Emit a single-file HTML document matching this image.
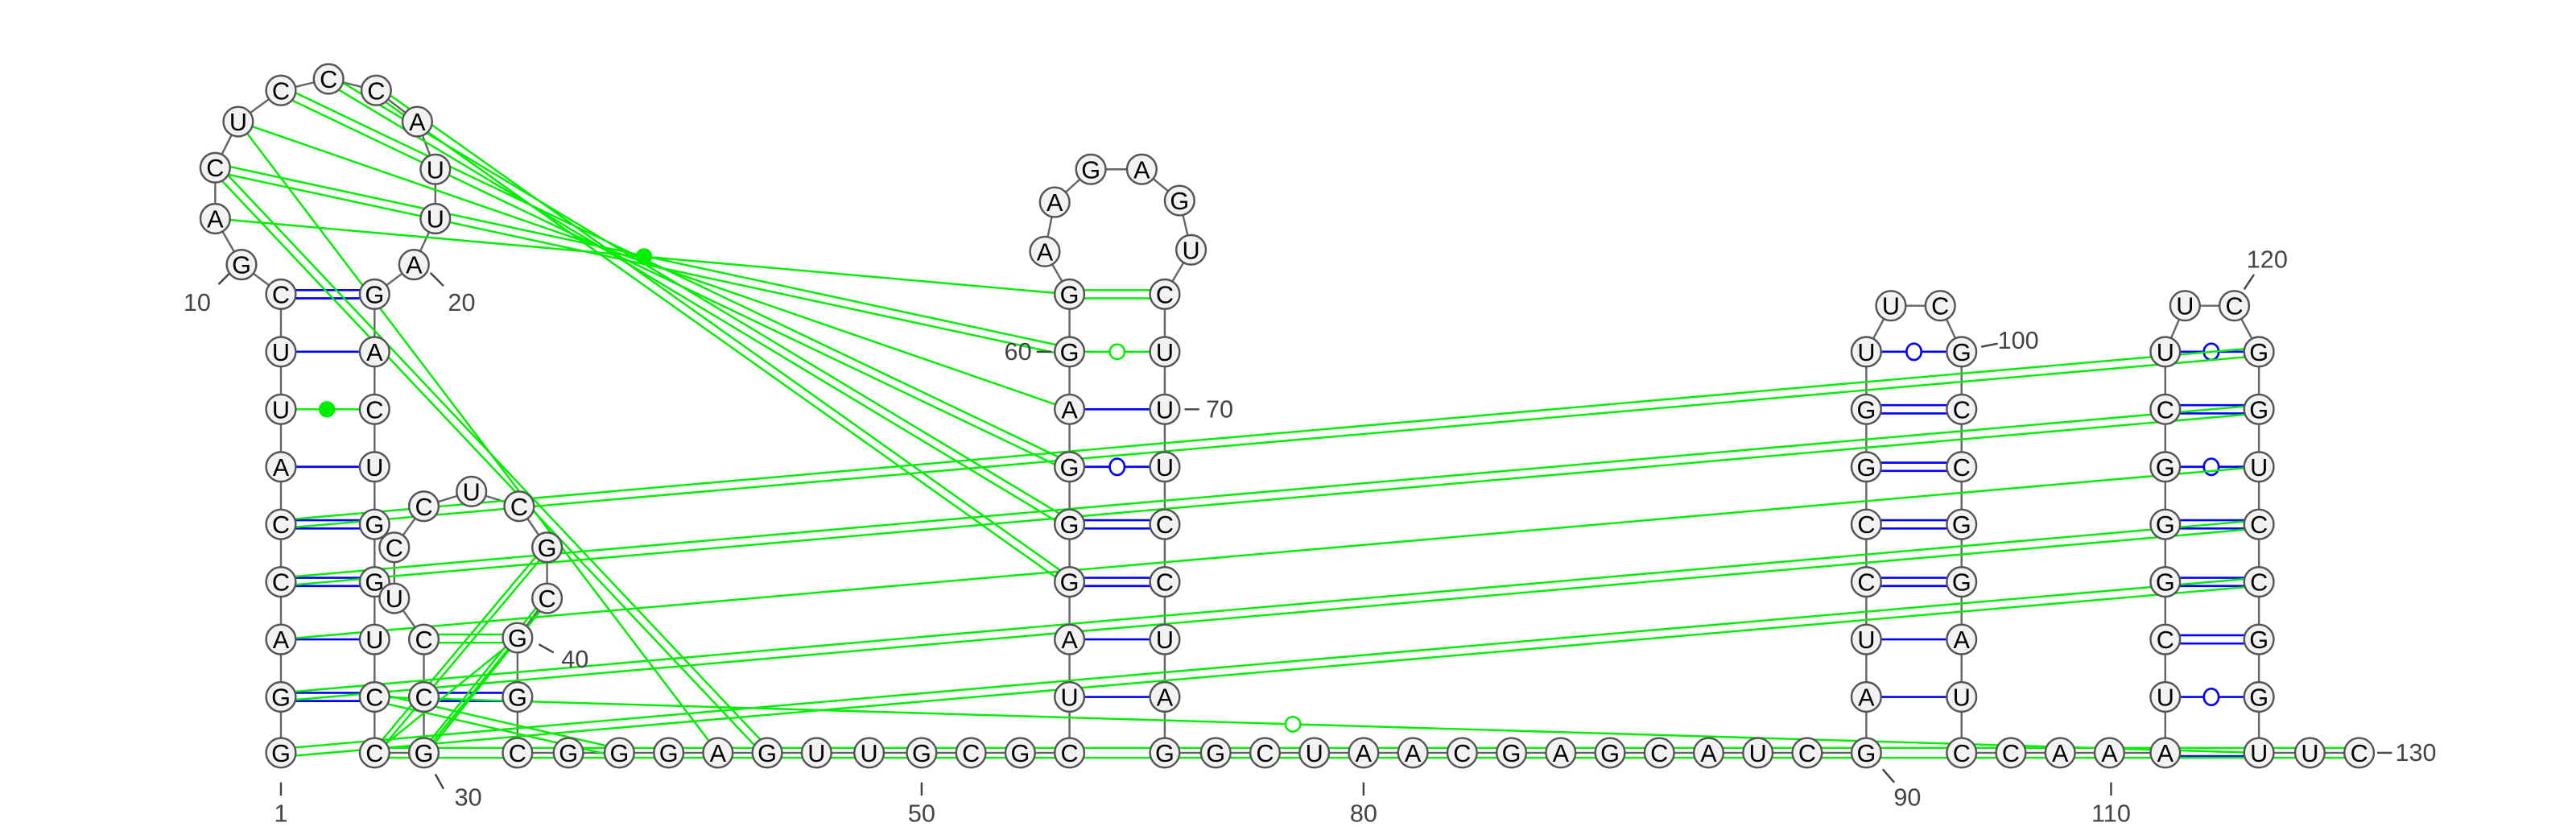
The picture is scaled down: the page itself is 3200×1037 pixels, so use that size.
<!DOCTYPE html>
<html><head><meta charset="utf-8"><style>
html,body{margin:0;padding:0;background:#fff;}
svg{display:block;}
.b{stroke:#666;stroke-width:1.2;fill:none}
.p{stroke:#0000ff;stroke-width:1.3;fill:none}
.g{stroke:#00ee00;stroke-width:1.2;fill:none}
.n circle{fill:#f2f2f2;stroke:#555;stroke-width:1.2}
.n text{font-family:"Liberation Sans",sans-serif;font-size:15px;text-anchor:middle;fill:#000;transform:translateY(0.8px)}
.l{font-family:"Liberation Sans",sans-serif;font-size:15px;fill:#444}
.t{stroke:#444;stroke-width:1.2}
</style></head><body>
<svg width="3200" height="1037" viewBox="0 0 1568 508" preserveAspectRatio="none" xmlns="http://www.w3.org/2000/svg">
<polyline class="b" points="171,458 171,424 171,389 171,354 171,319 171,284 171,249 171,214 171,179 147,161 131,133 131,102 145,74 171,55 200,48 229,55 254,74 265,103 265,133 252,161 228,179 228,214 228,249 228,284 228,319 228,354 228,389 228,424 228,458 258,458 258,424 258,389 240,364 240,333 258,308 287,299 316,308 333,333 333,364 315,388 315,424 315,458 346,458 377,458 407,458 437,458 467,458 497,458 529,458 561,458 591,458 621,458 651,458 651,424 651,389 651,354 651,319 651,284 651,249 651,214 651,179 636,153 642,123 664,103 695,103 718,122 725,152 709,179 709,214 709,249 709,284 709,319 709,354 709,389 709,424 709,458 740,458 770,458 800,458 830,458 860,458 890,458 920,458 950,458 980,458 1010,458 1040,458 1070,458 1100,458 1136,458 1136,424 1136,389 1136,354 1136,319 1136,284 1136,249 1136,214 1151,186 1181,186 1194,214 1194,249 1194,284 1194,319 1194,354 1194,389 1194,424 1194,458 1224,458 1254,458 1284,458 1318,458 1318,424 1318,389 1318,354 1318,319 1318,284 1318,249 1318,214 1330,186 1360,186 1375,214 1375,249 1375,284 1375,319 1375,354 1375,389 1375,424 1375,458 1406,458 1436,458"/>
<g class="p">
<line x1="171" y1="176.5" x2="228" y2="176.5"/><line x1="171" y1="181.5" x2="228" y2="181.5"/>
<line x1="171" y1="214" x2="228" y2="214"/>
<line x1="171" y1="284" x2="228" y2="284"/>
<line x1="171" y1="316.5" x2="228" y2="316.5"/><line x1="171" y1="321.5" x2="228" y2="321.5"/>
<line x1="171" y1="351.5" x2="228" y2="351.5"/><line x1="171" y1="356.5" x2="228" y2="356.5"/>
<line x1="171" y1="389" x2="228" y2="389"/>
<line x1="171" y1="421.5" x2="228" y2="421.5"/><line x1="171" y1="426.5" x2="228" y2="426.5"/>
<line x1="258" y1="421.5" x2="315" y2="421.5"/><line x1="258" y1="426.5" x2="315" y2="426.5"/>
<line x1="651" y1="249" x2="709" y2="249"/>
<line x1="651" y1="284" x2="709" y2="284"/>
<line x1="651" y1="316.5" x2="709" y2="316.5"/><line x1="651" y1="321.5" x2="709" y2="321.5"/>
<line x1="651" y1="351.5" x2="709" y2="351.5"/><line x1="651" y1="356.5" x2="709" y2="356.5"/>
<line x1="651" y1="389" x2="709" y2="389"/>
<line x1="651" y1="424" x2="709" y2="424"/>
<line x1="1136" y1="214" x2="1194" y2="214"/>
<line x1="1136" y1="246.5" x2="1194" y2="246.5"/><line x1="1136" y1="251.5" x2="1194" y2="251.5"/>
<line x1="1136" y1="281.5" x2="1194" y2="281.5"/><line x1="1136" y1="286.5" x2="1194" y2="286.5"/>
<line x1="1136" y1="316.5" x2="1194" y2="316.5"/><line x1="1136" y1="321.5" x2="1194" y2="321.5"/>
<line x1="1136" y1="351.5" x2="1194" y2="351.5"/><line x1="1136" y1="356.5" x2="1194" y2="356.5"/>
<line x1="1136" y1="389" x2="1194" y2="389"/>
<line x1="1136" y1="424" x2="1194" y2="424"/>
<line x1="1318" y1="214" x2="1375" y2="214"/>
<line x1="1318" y1="246.5" x2="1375" y2="246.5"/><line x1="1318" y1="251.5" x2="1375" y2="251.5"/>
<line x1="1318" y1="284" x2="1375" y2="284"/>
<line x1="1318" y1="316.5" x2="1375" y2="316.5"/><line x1="1318" y1="321.5" x2="1375" y2="321.5"/>
<line x1="1318" y1="351.5" x2="1375" y2="351.5"/><line x1="1318" y1="356.5" x2="1375" y2="356.5"/>
<line x1="1318" y1="386.5" x2="1375" y2="386.5"/><line x1="1318" y1="391.5" x2="1375" y2="391.5"/>
<line x1="1318" y1="424" x2="1375" y2="424"/>
<line x1="1318" y1="460" x2="1375" y2="460"/>
<ellipse cx="680" cy="284" rx="4.5" ry="5" fill="#fff"/>
<ellipse cx="1165" cy="214" rx="4.5" ry="5" fill="#fff"/>
<ellipse cx="1346" cy="214" rx="4.5" ry="5" fill="#fff"/>
<ellipse cx="1346" cy="284" rx="4.5" ry="5" fill="#fff"/>
<ellipse cx="1346" cy="424" rx="4.5" ry="5" fill="#fff"/>
</g>
<g class="g">
<line x1="228" y1="455" x2="1436" y2="455"/><line x1="228" y1="461" x2="1436" y2="461"/>
<line x1="171" y1="249" x2="228" y2="249"/>
<line x1="258" y1="386" x2="315" y2="386"/><line x1="258" y1="391" x2="315" y2="391"/>
<line x1="651" y1="176.5" x2="709" y2="176.5"/><line x1="651" y1="181.5" x2="709" y2="181.5"/>
<line x1="651" y1="214" x2="709" y2="214"/>
<line x1="171" y1="316.5" x2="1375" y2="211.5"/><line x1="171" y1="321.5" x2="1375" y2="216.5"/>
<line x1="171" y1="351.5" x2="1375" y2="246.5"/><line x1="171" y1="356.5" x2="1375" y2="251.5"/>
<line x1="171" y1="389" x2="1375" y2="284"/>
<line x1="171" y1="421.5" x2="1375" y2="316.5"/><line x1="171" y1="426.5" x2="1375" y2="321.5"/>
<line x1="171" y1="455.5" x2="1375" y2="351.5"/><line x1="171" y1="460.5" x2="1375" y2="356.5"/>
<line x1="228" y1="424" x2="1375" y2="458"/>
<line x1="131" y1="133" x2="651" y2="179"/>
<line x1="131" y1="99.5" x2="651" y2="211.5"/><line x1="131" y1="104.5" x2="651" y2="216.5"/>
<line x1="145" y1="74" x2="651" y2="249"/>
<line x1="169.9" y1="57.25" x2="649.9" y2="286.25"/><line x1="172.1" y1="52.75" x2="652.1" y2="281.75"/>
<line x1="198.7" y1="50.1" x2="649.7" y2="321.1"/><line x1="201.3" y1="45.9" x2="652.3" y2="316.9"/>
<line x1="227.55" y1="57.04" x2="649.55" y2="356.04"/><line x1="230.45" y1="52.96" x2="652.45" y2="351.96"/>
<line x1="145" y1="74" x2="437" y2="458"/>
<line x1="129.2" y1="103.7" x2="465.2" y2="459.7"/><line x1="132.8" y1="100.3" x2="468.8" y2="456.3"/>
<line x1="226" y1="458" x2="331" y2="333"/><line x1="230" y1="458" x2="335" y2="333"/>
<line x1="256" y1="458" x2="331" y2="364"/><line x1="260" y1="458" x2="335" y2="364"/>
<line x1="228" y1="458" x2="315" y2="388"/>
<line x1="258" y1="458" x2="315" y2="388"/>
<line x1="228" y1="421.5" x2="377" y2="455.5"/><line x1="228" y1="426.5" x2="377" y2="460.5"/>
<circle cx="787" cy="440.6" r="4.5" fill="#fff"/>
<circle cx="680" cy="214" r="4.5" fill="#fff"/>
</g>
<circle cx="199" cy="249" r="5" fill="#00ee00"/>
<circle cx="392" cy="156" r="5" fill="#00ee00"/>
<g class="t">
<line x1="171" y1="476" x2="171" y2="484"/>
<line x1="133" y1="173" x2="140" y2="166"/>
<line x1="262" y1="166" x2="270" y2="174"/>
<line x1="265" y1="471" x2="270" y2="480"/>
<line x1="328" y1="392" x2="337" y2="397"/>
<line x1="561" y1="476" x2="561" y2="484"/>
<line x1="631" y1="214" x2="640" y2="214"/>
<line x1="721" y1="249" x2="730" y2="249"/>
<line x1="830" y1="476" x2="830" y2="484"/>
<line x1="1146" y1="468" x2="1153" y2="476"/>
<line x1="1206" y1="211" x2="1216" y2="209"/>
<line x1="1285" y1="476" x2="1285" y2="484"/>
<line x1="1366" y1="176" x2="1372" y2="167"/>
<line x1="1447" y1="458" x2="1456" y2="458"/>
</g>
<g class="l">
<text x="171" y="500" text-anchor="middle">1</text>
<text x="120" y="189" text-anchor="middle">10</text>
<text x="281" y="189" text-anchor="middle">20</text>
<text x="285" y="490" text-anchor="middle">30</text>
<text x="350" y="406" text-anchor="middle">40</text>
<text x="561" y="500" text-anchor="middle">50</text>
<text x="628" y="219" text-anchor="end">60</text>
<text x="734" y="254">70</text>
<text x="830" y="500" text-anchor="middle">80</text>
<text x="1161" y="490" text-anchor="middle">90</text>
<text x="1216" y="212">100</text>
<text x="1285" y="500" text-anchor="middle">110</text>
<text x="1380" y="163" text-anchor="middle">120</text>
<text x="1458" y="463">130</text>
</g>
<g class="n">
<g transform="translate(171,458)"><circle r="9"/><text dy="4.6">G</text></g>
<g transform="translate(171,424)"><circle r="9"/><text dy="4.6">G</text></g>
<g transform="translate(171,389)"><circle r="9"/><text dy="4.6">A</text></g>
<g transform="translate(171,354)"><circle r="9"/><text dy="4.6">C</text></g>
<g transform="translate(171,319)"><circle r="9"/><text dy="4.6">C</text></g>
<g transform="translate(171,284)"><circle r="9"/><text dy="4.6">A</text></g>
<g transform="translate(171,249)"><circle r="9"/><text dy="4.6">U</text></g>
<g transform="translate(171,214)"><circle r="9"/><text dy="4.6">U</text></g>
<g transform="translate(171,179)"><circle r="9"/><text dy="4.6">C</text></g>
<g transform="translate(147,161)"><circle r="9"/><text dy="4.6">G</text></g>
<g transform="translate(131,133)"><circle r="9"/><text dy="4.6">A</text></g>
<g transform="translate(131,102)"><circle r="9"/><text dy="4.6">C</text></g>
<g transform="translate(145,74)"><circle r="9"/><text dy="4.6">U</text></g>
<g transform="translate(171,55)"><circle r="9"/><text dy="4.6">C</text></g>
<g transform="translate(200,48)"><circle r="9"/><text dy="4.6">C</text></g>
<g transform="translate(229,55)"><circle r="9"/><text dy="4.6">C</text></g>
<g transform="translate(254,74)"><circle r="9"/><text dy="4.6">A</text></g>
<g transform="translate(265,103)"><circle r="9"/><text dy="4.6">U</text></g>
<g transform="translate(265,133)"><circle r="9"/><text dy="4.6">U</text></g>
<g transform="translate(252,161)"><circle r="9"/><text dy="4.6">A</text></g>
<g transform="translate(228,179)"><circle r="9"/><text dy="4.6">G</text></g>
<g transform="translate(228,214)"><circle r="9"/><text dy="4.6">A</text></g>
<g transform="translate(228,249)"><circle r="9"/><text dy="4.6">C</text></g>
<g transform="translate(228,284)"><circle r="9"/><text dy="4.6">U</text></g>
<g transform="translate(228,319)"><circle r="9"/><text dy="4.6">G</text></g>
<g transform="translate(228,354)"><circle r="9"/><text dy="4.6">G</text></g>
<g transform="translate(228,389)"><circle r="9"/><text dy="4.6">U</text></g>
<g transform="translate(228,424)"><circle r="9"/><text dy="4.6">C</text></g>
<g transform="translate(228,458)"><circle r="9"/><text dy="4.6">C</text></g>
<g transform="translate(258,458)"><circle r="9"/><text dy="4.6">G</text></g>
<g transform="translate(258,424)"><circle r="9"/><text dy="4.6">C</text></g>
<g transform="translate(258,389)"><circle r="9"/><text dy="4.6">C</text></g>
<g transform="translate(240,364)"><circle r="9"/><text dy="4.6">U</text></g>
<g transform="translate(240,333)"><circle r="9"/><text dy="4.6">C</text></g>
<g transform="translate(258,308)"><circle r="9"/><text dy="4.6">C</text></g>
<g transform="translate(287,299)"><circle r="9"/><text dy="4.6">U</text></g>
<g transform="translate(316,308)"><circle r="9"/><text dy="4.6">C</text></g>
<g transform="translate(333,333)"><circle r="9"/><text dy="4.6">G</text></g>
<g transform="translate(333,364)"><circle r="9"/><text dy="4.6">C</text></g>
<g transform="translate(315,388)"><circle r="9"/><text dy="4.6">G</text></g>
<g transform="translate(315,424)"><circle r="9"/><text dy="4.6">G</text></g>
<g transform="translate(315,458)"><circle r="9"/><text dy="4.6">C</text></g>
<g transform="translate(346,458)"><circle r="9"/><text dy="4.6">G</text></g>
<g transform="translate(377,458)"><circle r="9"/><text dy="4.6">G</text></g>
<g transform="translate(407,458)"><circle r="9"/><text dy="4.6">G</text></g>
<g transform="translate(437,458)"><circle r="9"/><text dy="4.6">A</text></g>
<g transform="translate(467,458)"><circle r="9"/><text dy="4.6">G</text></g>
<g transform="translate(497,458)"><circle r="9"/><text dy="4.6">U</text></g>
<g transform="translate(529,458)"><circle r="9"/><text dy="4.6">U</text></g>
<g transform="translate(561,458)"><circle r="9"/><text dy="4.6">G</text></g>
<g transform="translate(591,458)"><circle r="9"/><text dy="4.6">C</text></g>
<g transform="translate(621,458)"><circle r="9"/><text dy="4.6">G</text></g>
<g transform="translate(651,458)"><circle r="9"/><text dy="4.6">C</text></g>
<g transform="translate(651,424)"><circle r="9"/><text dy="4.6">U</text></g>
<g transform="translate(651,389)"><circle r="9"/><text dy="4.6">A</text></g>
<g transform="translate(651,354)"><circle r="9"/><text dy="4.6">G</text></g>
<g transform="translate(651,319)"><circle r="9"/><text dy="4.6">G</text></g>
<g transform="translate(651,284)"><circle r="9"/><text dy="4.6">G</text></g>
<g transform="translate(651,249)"><circle r="9"/><text dy="4.6">A</text></g>
<g transform="translate(651,214)"><circle r="9"/><text dy="4.6">G</text></g>
<g transform="translate(651,179)"><circle r="9"/><text dy="4.6">G</text></g>
<g transform="translate(636,153)"><circle r="9"/><text dy="4.6">A</text></g>
<g transform="translate(642,123)"><circle r="9"/><text dy="4.6">A</text></g>
<g transform="translate(664,103)"><circle r="9"/><text dy="4.6">G</text></g>
<g transform="translate(695,103)"><circle r="9"/><text dy="4.6">A</text></g>
<g transform="translate(718,122)"><circle r="9"/><text dy="4.6">G</text></g>
<g transform="translate(725,152)"><circle r="9"/><text dy="4.6">U</text></g>
<g transform="translate(709,179)"><circle r="9"/><text dy="4.6">C</text></g>
<g transform="translate(709,214)"><circle r="9"/><text dy="4.6">U</text></g>
<g transform="translate(709,249)"><circle r="9"/><text dy="4.6">U</text></g>
<g transform="translate(709,284)"><circle r="9"/><text dy="4.6">U</text></g>
<g transform="translate(709,319)"><circle r="9"/><text dy="4.6">C</text></g>
<g transform="translate(709,354)"><circle r="9"/><text dy="4.6">C</text></g>
<g transform="translate(709,389)"><circle r="9"/><text dy="4.6">U</text></g>
<g transform="translate(709,424)"><circle r="9"/><text dy="4.6">A</text></g>
<g transform="translate(709,458)"><circle r="9"/><text dy="4.6">G</text></g>
<g transform="translate(740,458)"><circle r="9"/><text dy="4.6">G</text></g>
<g transform="translate(770,458)"><circle r="9"/><text dy="4.6">C</text></g>
<g transform="translate(800,458)"><circle r="9"/><text dy="4.6">U</text></g>
<g transform="translate(830,458)"><circle r="9"/><text dy="4.6">A</text></g>
<g transform="translate(860,458)"><circle r="9"/><text dy="4.6">A</text></g>
<g transform="translate(890,458)"><circle r="9"/><text dy="4.6">C</text></g>
<g transform="translate(920,458)"><circle r="9"/><text dy="4.6">G</text></g>
<g transform="translate(950,458)"><circle r="9"/><text dy="4.6">A</text></g>
<g transform="translate(980,458)"><circle r="9"/><text dy="4.6">G</text></g>
<g transform="translate(1010,458)"><circle r="9"/><text dy="4.6">C</text></g>
<g transform="translate(1040,458)"><circle r="9"/><text dy="4.6">A</text></g>
<g transform="translate(1070,458)"><circle r="9"/><text dy="4.6">U</text></g>
<g transform="translate(1100,458)"><circle r="9"/><text dy="4.6">C</text></g>
<g transform="translate(1136,458)"><circle r="9"/><text dy="4.6">G</text></g>
<g transform="translate(1136,424)"><circle r="9"/><text dy="4.6">A</text></g>
<g transform="translate(1136,389)"><circle r="9"/><text dy="4.6">U</text></g>
<g transform="translate(1136,354)"><circle r="9"/><text dy="4.6">C</text></g>
<g transform="translate(1136,319)"><circle r="9"/><text dy="4.6">C</text></g>
<g transform="translate(1136,284)"><circle r="9"/><text dy="4.6">G</text></g>
<g transform="translate(1136,249)"><circle r="9"/><text dy="4.6">G</text></g>
<g transform="translate(1136,214)"><circle r="9"/><text dy="4.6">U</text></g>
<g transform="translate(1151,186)"><circle r="9"/><text dy="4.6">U</text></g>
<g transform="translate(1181,186)"><circle r="9"/><text dy="4.6">C</text></g>
<g transform="translate(1194,214)"><circle r="9"/><text dy="4.6">G</text></g>
<g transform="translate(1194,249)"><circle r="9"/><text dy="4.6">C</text></g>
<g transform="translate(1194,284)"><circle r="9"/><text dy="4.6">C</text></g>
<g transform="translate(1194,319)"><circle r="9"/><text dy="4.6">G</text></g>
<g transform="translate(1194,354)"><circle r="9"/><text dy="4.6">G</text></g>
<g transform="translate(1194,389)"><circle r="9"/><text dy="4.6">A</text></g>
<g transform="translate(1194,424)"><circle r="9"/><text dy="4.6">U</text></g>
<g transform="translate(1194,458)"><circle r="9"/><text dy="4.6">C</text></g>
<g transform="translate(1224,458)"><circle r="9"/><text dy="4.6">C</text></g>
<g transform="translate(1254,458)"><circle r="9"/><text dy="4.6">A</text></g>
<g transform="translate(1284,458)"><circle r="9"/><text dy="4.6">A</text></g>
<g transform="translate(1318,458)"><circle r="9"/><text dy="4.6">A</text></g>
<g transform="translate(1318,424)"><circle r="9"/><text dy="4.6">U</text></g>
<g transform="translate(1318,389)"><circle r="9"/><text dy="4.6">C</text></g>
<g transform="translate(1318,354)"><circle r="9"/><text dy="4.6">G</text></g>
<g transform="translate(1318,319)"><circle r="9"/><text dy="4.6">G</text></g>
<g transform="translate(1318,284)"><circle r="9"/><text dy="4.6">G</text></g>
<g transform="translate(1318,249)"><circle r="9"/><text dy="4.6">C</text></g>
<g transform="translate(1318,214)"><circle r="9"/><text dy="4.6">U</text></g>
<g transform="translate(1330,186)"><circle r="9"/><text dy="4.6">U</text></g>
<g transform="translate(1360,186)"><circle r="9"/><text dy="4.6">C</text></g>
<g transform="translate(1375,214)"><circle r="9"/><text dy="4.6">G</text></g>
<g transform="translate(1375,249)"><circle r="9"/><text dy="4.6">G</text></g>
<g transform="translate(1375,284)"><circle r="9"/><text dy="4.6">U</text></g>
<g transform="translate(1375,319)"><circle r="9"/><text dy="4.6">C</text></g>
<g transform="translate(1375,354)"><circle r="9"/><text dy="4.6">C</text></g>
<g transform="translate(1375,389)"><circle r="9"/><text dy="4.6">G</text></g>
<g transform="translate(1375,424)"><circle r="9"/><text dy="4.6">G</text></g>
<g transform="translate(1375,458)"><circle r="9"/><text dy="4.6">U</text></g>
<g transform="translate(1406,458)"><circle r="9"/><text dy="4.6">U</text></g>
<g transform="translate(1436,458)"><circle r="9"/><text dy="4.6">C</text></g>
</g>
</svg>
</body></html>
